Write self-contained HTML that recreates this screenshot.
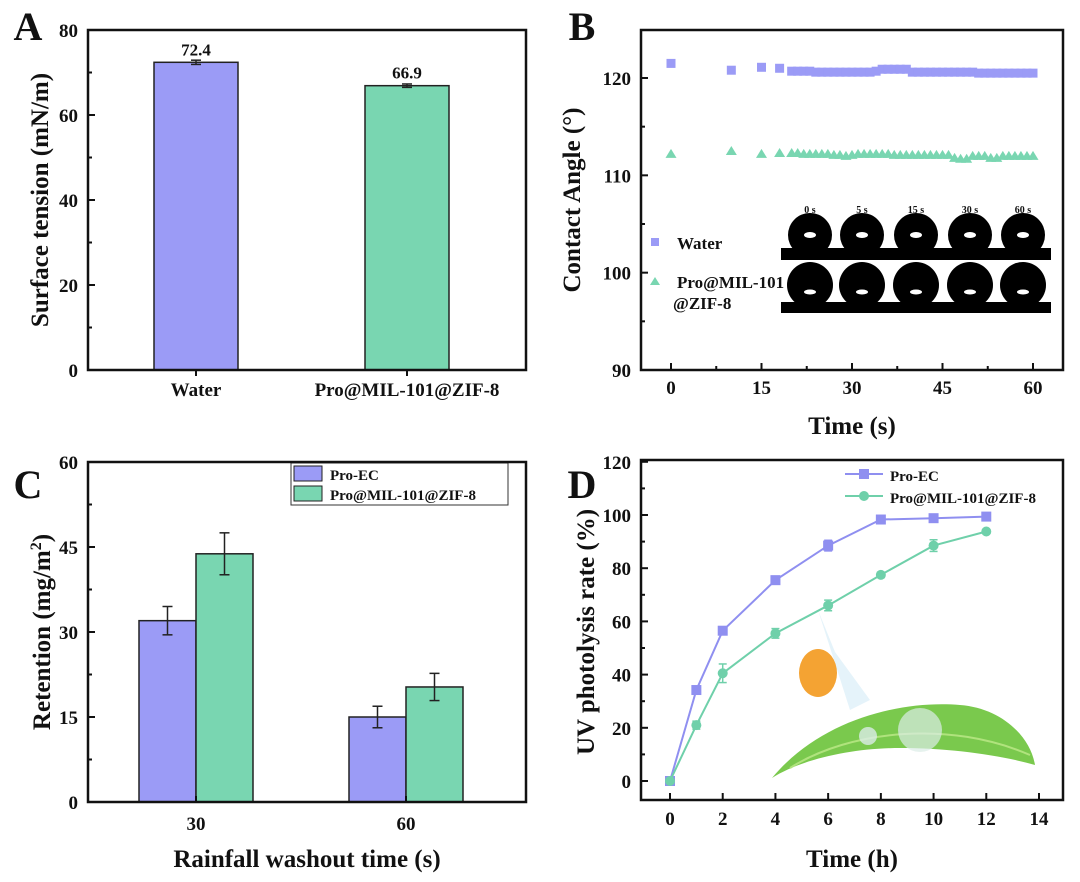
<!DOCTYPE html>
<html><head><meta charset="utf-8"><style>
html,body{margin:0;padding:0;background:#fff;}
svg{display:block;font-family:"Liberation Serif",serif;font-weight:bold;}
</style></head><body>
<svg id="fig" width="1080" height="882" viewBox="0 0 1080 882"></svg>
<script>
// ---- Panel A data ----
const aCats=["Water","Pro@MIL-101@ZIF-8"];
const aVals=[72.4,66.9];
const aErr=[0.5,0.4];
const aTicks=[0,20,40,60,80];
// ---- Panel B data ----
const bWaterT=[0,10,15,18,20,21,22,23,24,25,26,27,28,29,30,31,32,33,34,35,36,37,38,39,40,41,42,43,44,45,46,47,48,49,50,51,52,53,54,55,56,57,58,59,60];
const bWaterV=[121.5,120.8,121.1,121.0,120.7,120.7,120.7,120.7,120.6,120.6,120.6,120.6,120.6,120.6,120.6,120.6,120.6,120.6,120.7,120.9,120.9,120.9,120.9,120.9,120.6,120.6,120.6,120.6,120.6,120.6,120.6,120.6,120.6,120.6,120.6,120.5,120.5,120.5,120.5,120.5,120.5,120.5,120.5,120.5,120.5];
const bModT=[0,10,15,18,20,21,22,23,24,25,26,27,28,29,30,31,32,33,34,35,36,37,38,39,40,41,42,43,44,45,46,47,48,49,50,51,52,53,54,55,56,57,58,59,60];
const bModV=[112.2,112.5,112.2,112.3,112.3,112.3,112.2,112.2,112.2,112.2,112.2,112.1,112.1,112.0,112.1,112.2,112.2,112.2,112.2,112.2,112.2,112.1,112.1,112.1,112.1,112.1,112.1,112.1,112.1,112.1,112.1,111.8,111.7,111.7,112.0,112.0,112.0,111.8,111.8,112.0,112.0,112.0,112.0,112.0,112.0];
const bXTicks=[0,15,30,45,60];
const bYTicks=[90,100,110,120];
// ---- Panel C data ----
const cCats=["30","60"];
const cPro=[32,15];
const cProErr=[2.5,1.9];
const cMod=[43.8,20.3];
const cModErr=[3.7,2.4];
const cTicks=[0,15,30,45,60];
// ---- Panel D data ----
const dT=[0,1,2,4,6,8,10,12];
const dPro=[0,34.2,56.5,75.5,88.5,98.3,98.8,99.4];
const dProErr=[0.5,0.8,0.8,1.5,2,0.8,0.6,0.6];
const dMod=[0,21,40.5,55.5,66,77.5,88.5,93.8];
const dModErr=[0.5,1.5,3.5,1.8,2,1,2.2,0.6];
const dXTicks=[0,2,4,6,8,10,12,14];
const dYTicks=[0,20,40,60,80,100,120];

const PURPLE="#9b9bf6", GREEN="#79d6b1";
const svg=document.getElementById('fig');
const NS="http://www.w3.org/2000/svg";
function el(tag,attrs,parent,text){const e=document.createElementNS(NS,tag);for(const k in attrs)e.setAttribute(k,attrs[k]);if(text!==undefined)e.textContent=text;(parent||svg).appendChild(e);return e;}
function txt(x,y,s,size,anchor,parent,name,rot){const t=el('text',{x:x,y:y,'font-size':size,'text-anchor':anchor||'middle',fill:'#111'},parent,s);


if(rot)t.setAttribute('transform','rotate(-90 '+x+' '+y+')');return t;}
function frame(x0,y0,x1,y1,name){const r=el('rect',{x:x0,y:y0,width:x1-x0,height:y1-y0,fill:'none',stroke:'#111','stroke-width':2.5});

}
function line(x1,y1,x2,y2,c,w,p){return el('line',{x1,y1,x2,y2,stroke:c||'#111','stroke-width':w||2},p);}
function errbar(x,yTop,yBot,c,p,hw){hw=hw||6;line(x,yTop,x,yBot,c,1.5,p);line(x-hw,yTop,x+hw,yTop,c,1.5,p);line(x-hw,yBot,x+hw,yBot,c,1.5,p);}

// ===== Panel A =====
(function(){
const g=el('g',{});
const x0=88,x1=526,y0=30,y1=370;const ys=v=>y1-(v/80)*(y1-y0);
const cx=[196,407];
aVals.forEach((v,i)=>{const b=el('rect',{x:cx[i]-42,y:ys(v),width:84,height:y1-ys(v),fill:i?GREEN:PURPLE,stroke:'#222','stroke-width':1.5},g);


errbar(cx[i],ys(v+aErr[i]),ys(v-aErr[i]),'#222',g,5);
txt(cx[i],ys(v)-7,v.toFixed(1),17,'middle',g,'value-label');
txt(cx[i],396,aCats[i],19,'middle',g,'x-tick-label');
line(cx[i],y1,cx[i],y1+6,'#111',2,g);});
aTicks.forEach(t=>{line(x0,ys(t),x0+7,ys(t),'#111',2,g);txt(x0-10,ys(t)+7,String(t),19,'end',g,'y-tick-label');});
[10,30,50,70].forEach(t=>line(x0,ys(t),x0+4,ys(t),'#111',2,g));
frame(x0,y0,x1,y1,'panel-a-frame');
txt(48,200,'Surface tension (mN/m)',25,'middle',g,'y-axis-title',true);
txt(28,40,'A',40,'middle',g,'panel-letter-a');
})();

// ===== Panel B =====
(function(){
const g=el('g',{});
const x0=641,x1=1063,y0=30,y1=370;
const xs=t=>671+t*(1033-671)/60, ys=v=>370-(v-90)*(370-78)/30;
bWaterT.forEach((t,i)=>{const r=el('rect',{x:xs(t)-4.5,y:ys(bWaterV[i])-4.5,width:9,height:9,fill:PURPLE},g);

});
bModT.forEach((t,i)=>{const x=xs(t),y=ys(bModV[i]);const p=el('polygon',{points:`${x},${y-5} ${x-5.5},${y+4} ${x+5.5},${y+4}`,fill:GREEN},g);

});
bXTicks.forEach(t=>{line(xs(t),y1,xs(t),y1-7,'#111',2,g);txt(xs(t),394,String(t),19,'middle',g,'x-tick-label');});
[7.5,22.5,37.5,52.5].forEach(t=>line(xs(t),y1,xs(t),y1-4,'#111',2,g));
bYTicks.forEach(t=>{line(x0,ys(t),x0+7,ys(t),'#111',2,g);txt(x0-10,ys(t)+7,String(t),19,'end',g,'y-tick-label');});
[95,105,115].forEach(t=>line(x0,ys(t),x0+4,ys(t),'#111',2,g));
frame(x0,y0,x1,y1,'panel-b-frame');
txt(852,434,'Time (s)',25,'middle',g,'x-axis-title');
txt(580,200,'Contact Angle (°)',25,'middle',g,'y-axis-title',true);
txt(582,40,'B',40,'middle',g,'panel-letter-b');
// legend
el('rect',{x:651,y:238,width:8,height:8,fill:PURPLE},g);
txt(677,249,'Water',17,'start',g,'legend-water');
el('polygon',{points:'655,277 650,285 660,285',fill:GREEN},g);
txt(677,288,'Pro@MIL-101',17,'start',g,'legend-mof');
txt(673,309,'@ZIF-8',17,'start',g,'legend-mof-2');
// inset droplets
const ig=el('g',{},g);
const dx=[810,862,916,970,1023];const lab=['0 s','5 s','15 s','30 s','60 s'];
el('rect',{x:781,y:248,width:270,height:12,fill:'#000'},ig);
el('rect',{x:781,y:302,width:270,height:11,fill:'#000'},ig);
dx.forEach((x,i)=>{txt(x,213,lab[i],10,'middle',ig,'inset-label');
el('circle',{cx:x,cy:235,r:22,fill:'#000'},ig);
el('ellipse',{cx:x,cy:235,rx:6,ry:3,fill:'#fff'},ig);
el('circle',{cx:x,cy:285,r:23,fill:'#000'},ig);
el('ellipse',{cx:x,cy:292,rx:6,ry:2.5,fill:'#fff'},ig);});
})();

// ===== Panel C =====
(function(){
const g=el('g',{});
const x0=88,x1=526,y0=462,y1=802;const ys=v=>y1-(v/60)*(y1-y0);
const gc=[196,406];
cCats.forEach((c,i)=>{
const b1=el('rect',{x:gc[i]-57,y:ys(cPro[i]),width:57,height:y1-ys(cPro[i]),fill:PURPLE,stroke:'#222','stroke-width':1.5},g);


const b2=el('rect',{x:gc[i],y:ys(cMod[i]),width:57,height:y1-ys(cMod[i]),fill:GREEN,stroke:'#222','stroke-width':1.5},g);


errbar(gc[i]-28.5,ys(cPro[i]+cProErr[i]),ys(cPro[i]-cProErr[i]),'#222',g,5);
errbar(gc[i]+28.5,ys(cMod[i]+cModErr[i]),ys(cMod[i]-cModErr[i]),'#222',g,5);
line(gc[i],y1,gc[i],y1-6,'#111',2,g);
txt(gc[i],830,c,19,'middle',g,'x-tick-label');});
cTicks.forEach(t=>{line(x0,ys(t),x0+7,ys(t),'#111',2,g);txt(x0-10,ys(t)+7,String(t),19,'end',g,'y-tick-label');});
[7.5,22.5,37.5,52.5].forEach(t=>line(x0,ys(t),x0+4,ys(t),'#111',2,g));
frame(x0,y0,x1,y1,'panel-c-frame');
el('rect',{x:291,y:463,width:217,height:42,fill:'#fff',stroke:'#333','stroke-width':1},g);
el('rect',{x:294,y:466,width:28,height:15,fill:PURPLE,stroke:'#222','stroke-width':1},g);
txt(330,480,'Pro-EC',15,'start',g,'legend-pro-ec');
el('rect',{x:294,y:486,width:28,height:15,fill:GREEN,stroke:'#222','stroke-width':1},g);
txt(330,500,'Pro@MIL-101@ZIF-8',15,'start',g,'legend-mof');
txt(307,867,'Rainfall washout time (s)',25,'middle',g,'x-axis-title');
const yt=txt(50,632,'',25,'middle',g,'y-axis-title',true);
yt.innerHTML='Retention (mg/m<tspan dy="-9" font-size="16">2</tspan><tspan dy="9">)</tspan>';
txt(28,498,'C',40,'middle',g,'panel-letter-c');
})();

// ===== Panel D =====
(function(){
const g=el('g',{});
const x0=641,x1=1063,y0=460,y1=800;
const xs=t=>670+t*(1039-670)/14, ys=v=>781-v*(781-515)/100;
const dec=el('g',{opacity:0.9},g);
el('path',{d:'M772,778 C820,720 900,700 960,705 C1000,708 1030,735 1035,765 C1000,755 950,748 900,748 C850,748 800,760 772,778 Z',fill:'#6cc43a'},dec);
el('path',{d:'M790,768 C850,730 950,720 1030,755',stroke:'#a8e070','stroke-width':2,fill:'none'},dec);
el('path',{d:'M818,610 L835,652 L870,700 L850,710 Z',fill:'#cfe9f5',opacity:0.6},dec);
el('ellipse',{cx:818,cy:673,rx:19,ry:24,fill:'#f39a1e'},dec);
el('circle',{cx:868,cy:736,r:9,fill:'#d8ebe6',opacity:0.8},dec);
el('circle',{cx:920,cy:730,r:22,fill:'#d8ebe6',opacity:0.7},dec);
function series(vals,errs,c,name,marker){
const pts=dT.map((t,i)=>xs(t)+','+ys(vals[i])).join(' ');
const pl=el('polyline',{points:pts,fill:'none',stroke:c,'stroke-width':2},g);


dT.forEach((t,i)=>{errbar(xs(t),ys(vals[i]+errs[i]),ys(vals[i]-errs[i]),c,g,4);
const m=marker==='sq'?el('rect',{x:xs(t)-5,y:ys(vals[i])-5,width:10,height:10,fill:c},g):el('circle',{cx:xs(t),cy:ys(vals[i]),r:5,fill:c},g);

});}
series(dPro,dProErr,'#8f8ff0','pro-ec','sq');
series(dMod,dModErr,'#6fd0aa','mof','ci');
dXTicks.forEach(t=>{line(xs(t),y1,xs(t),y1-7,'#111',2,g);txt(xs(t),825,String(t),19,'middle',g,'x-tick-label');});
dYTicks.forEach(t=>{line(x0,ys(t),x0+7,ys(t),'#111',2,g);txt(x0-10,ys(t)+7,String(t),19,'end',g,'y-tick-label');});
[10,30,50,70,90,110].forEach(t=>line(x0,ys(t),x0+4,ys(t),'#111',2,g));
frame(x0,y0,x1,y1,'panel-d-frame');
line(845,474,883,474,'#8f8ff0',2,g);el('rect',{x:859,y:469,width:10,height:10,fill:'#8f8ff0'},g);
txt(890,481,'Pro-EC',15,'start',g,'legend-pro-ec');
line(845,496,883,496,'#6fd0aa',2,g);el('circle',{cx:864,cy:496,r:5,fill:'#6fd0aa'},g);
txt(890,503,'Pro@MIL-101@ZIF-8',15,'start',g,'legend-mof');
txt(852,867,'Time (h)',25,'middle',g,'x-axis-title');
txt(594,632,'UV photolysis rate (%)',25,'middle',g,'y-axis-title',true);
txt(582,498,'D',40,'middle',g,'panel-letter-d');
})();
</script>
</body></html>
